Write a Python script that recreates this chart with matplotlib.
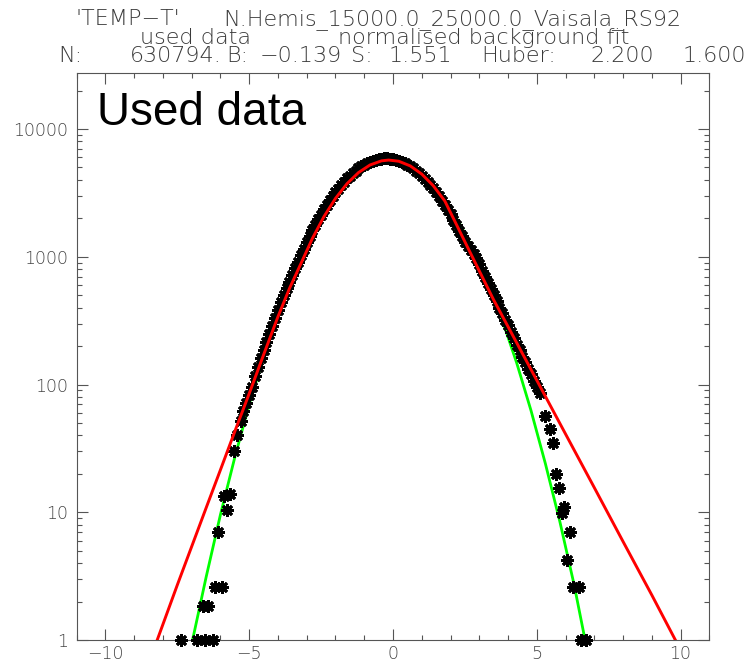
import matplotlib
matplotlib.use("Agg")
import matplotlib.pyplot as plt
from matplotlib.ticker import MultipleLocator, LogLocator, NullFormatter

# histogram of used data (normalised departures)
data_x = [-7.37, -6.82, -6.62, -6.54, -6.45, -6.26, -6.19, -6.08, -5.96, -5.86,
          -5.76, -5.67, -5.53, -5.42, -5.30, -5.20, -5.10, -5.00, -4.90, -4.80,
          -4.70, -4.60, -4.50, -4.40, -4.30, -4.20, -4.10, -4.00, -3.90, -3.80,
          -3.70, -3.60, -3.50, -3.40, -3.30, -3.20, -3.10, -3.00, -2.90, -2.80,
          -2.70, -2.60, -2.50, -2.40, -2.30, -2.20, -2.10, -2.00, -1.90, -1.80,
          -1.70, -1.60, -1.50, -1.40, -1.30, -1.20, -1.10, -1.00, -0.90, -0.80,
          -0.70, -0.60, -0.50, -0.40, -0.30, -0.20, -0.10, 0.00, 0.10, 0.20,
          0.30, 0.40, 0.50, 0.60, 0.70, 0.80, 0.90, 1.00, 1.10, 1.20,
          1.30, 1.40, 1.50, 1.60, 1.70, 1.80, 1.90, 2.00, 2.10, 2.20,
          2.30, 2.40, 2.50, 2.60, 2.70, 2.80, 2.90, 3.00, 3.10, 3.20,
          3.30, 3.40, 3.50, 3.60, 3.70, 3.80, 3.90, 4.00, 4.10, 4.20,
          4.30, 4.40, 4.50, 4.60, 4.70, 4.80, 4.90, 5.00, 5.10, 5.29,
          5.46, 5.55, 5.67, 5.78, 5.87, 5.96, 6.06, 6.17, 6.25, 6.48,
          6.55, 6.70]
data_y = [1, 1, 1.85, 1, 1.85, 1, 2.6, 6.95, 2.6, 13.5,
          10.4, 13.8, 30, 40, 52, 62, 72, 83, 95, 117,
          138, 160, 186, 214, 247, 285, 333, 380, 440, 500,
          565, 630, 714, 815, 915, 1040, 1160, 1305, 1445, 1610,
          1775, 1960, 2140, 2345, 2540, 2760, 2970, 3200, 3415, 3650,
          3865, 4100, 4305, 4530, 4720, 4925, 5090, 5270, 5405, 5550,
          5650, 5750, 5810, 5870, 5880, 5890, 5855, 5820, 5740, 5660,
          5540, 5420, 5255, 5105, 4910, 4730, 4515, 4320, 4085, 3880,
          3640, 3425, 3190, 2980, 2750, 2550, 2335, 2150, 1950, 1785,
          1600, 1455, 1295, 1220, 1120, 1060, 970, 875, 778, 700,
          622, 563, 498, 452, 400, 362, 320, 290, 256, 232,
          205, 186, 165, 150, 132, 120, 106, 96, 86, 57,
          45, 35, 20, 15.5, 9.8, 10.9, 4.2, 6.95, 2.6, 2.6,
          1, 1]

# normalised background fit (green)
gauss_x = [-6.97, -6.5, -6.0, -5.5, -5.0, -4.5, -4.0, -3.5, -3.0, -2.5,
           -2.0, -1.5, -1.0, -0.5, -0.13, 0.3, 0.8, 1.3, 1.8, 2.3,
           2.8, 3.3, 3.8, 4.3, 4.8, 5.3, 5.8, 6.3, 6.68]
gauss_y = [1, 3.1, 9.6, 27, 70, 163, 348, 678, 1205, 1954,
           2884, 3890, 4780, 5360, 5495, 5310, 4690, 3770, 2770, 1853,
           1130, 630, 319, 148, 62.5, 24, 8.5, 2.7, 1]

# Huber fit (red)
huber_x = [-8.2, -7.5, -7.0, -6.5, -6.0, -5.5, -5.0, -4.5, -4.0, -3.6,
           -3.2, -2.8, -2.4, -2.0, -1.6, -1.2, -0.8, -0.4, -0.15, 0.2,
           0.6, 1.0, 1.4, 1.8, 2.2, 2.6, 3.0, 3.5, 4.0, 4.5,
           5.0, 6.0, 7.0, 8.0, 9.0, 9.82]
huber_y = [1, 2.7, 5.4, 10.8, 21.5, 43, 85, 171, 340, 565,
           887, 1397, 2065, 2864, 3733, 4560, 5230, 5636, 5715, 5595,
           5145, 4440, 3600, 2737, 1800, 1180, 776, 460, 284, 175,
           108, 41, 15.6, 5.9, 2.25, 1]

x_ticks = [-10, -5, 0, 5, 10]
x_labels = ["\u221210", "\u22125", "0", "5", "10"]
y_ticks = [1, 10, 100, 1000, 10000]
y_labels = ["1", "10", "100", "1000", "10000"]

# title pieces: (text, x pixel, alignment)
title_1 = [("'TEMP\u2212T'", 128, "center"),
           ("N.Hemis_15000.0_25000.0_Vaisala_RS92", 452, "center")]
title_2 = [("used data", 195, "center"),
           ("normalised background fit", 484, "center")]
title_3 = [("N:", 58, "left"), ("630794.", 130, "left"), ("B:", 226, "left"),
           ("\u22120.139", 260, "left"), ("S:", 351, "left"),
           ("1.551", 389, "left"), ("Huber:", 481, "left"),
           ("2.200", 591, "left"), ("1.600", 683, "left")]

W, H = 750, 664
fig = plt.figure(figsize=(W / 100, H / 100), dpi=100)
ax = fig.add_axes([76.7 / W, 24 / H, 632.6 / W, 567.3 / H])

ax.plot(gauss_x, gauss_y, color="#00ff00", lw=2.0, zorder=2)
ax.plot(data_x, data_y, ls="none", marker=(8, 2, 0), ms=9, mew=2.0,
        color="black", clip_on=False, zorder=3)
ax.plot(huber_x, huber_y, color="#ff0000", lw=2.1, zorder=4)

ax.set_yscale("log")
ax.set_xlim(-11, 11)
ax.set_ylim(1, 2.76e4)

ax.set_xticks(x_ticks)
ax.set_xticklabels(x_labels)
ax.xaxis.set_minor_locator(MultipleLocator(1))
ax.set_yticks(y_ticks)
ax.set_yticklabels(y_labels)
ax.yaxis.set_minor_locator(LogLocator(base=10, subs=range(2, 10)))
ax.yaxis.set_minor_formatter(NullFormatter())

tick_col = "#555555"
ax.tick_params(which="both", direction="in", top=True, right=True,
               color=tick_col, width=0.8, labelcolor="#444444",
               labelsize=12.5)
ax.tick_params(which="major", length=8)
ax.tick_params(axis="x", which="major", pad=3.5)
ax.tick_params(axis="y", which="major", pad=6)
ax.tick_params(which="minor", length=3.8)
for lbl in ax.get_xticklabels() + ax.get_yticklabels():
    lbl.set_fontweight("light")
for sp in ax.spines.values():
    sp.set_color(tick_col)
    sp.set_linewidth(0.8)

ax.text(0.032, 0.908, "Used data", transform=ax.transAxes,
        family="Liberation Sans", fontsize=33, va="baseline", ha="left")

tcol = "#3a3a3a"
for pieces, base in [(title_1, 25), (title_2, 43.5), (title_3, 62)]:
    for s, px, ha in pieces:
        fig.text(px / W, 1 - base / H, s, ha=ha, va="baseline",
                 fontsize=16, color=tcol, fontweight="light")

fig.savefig("out.png", dpi=100)
